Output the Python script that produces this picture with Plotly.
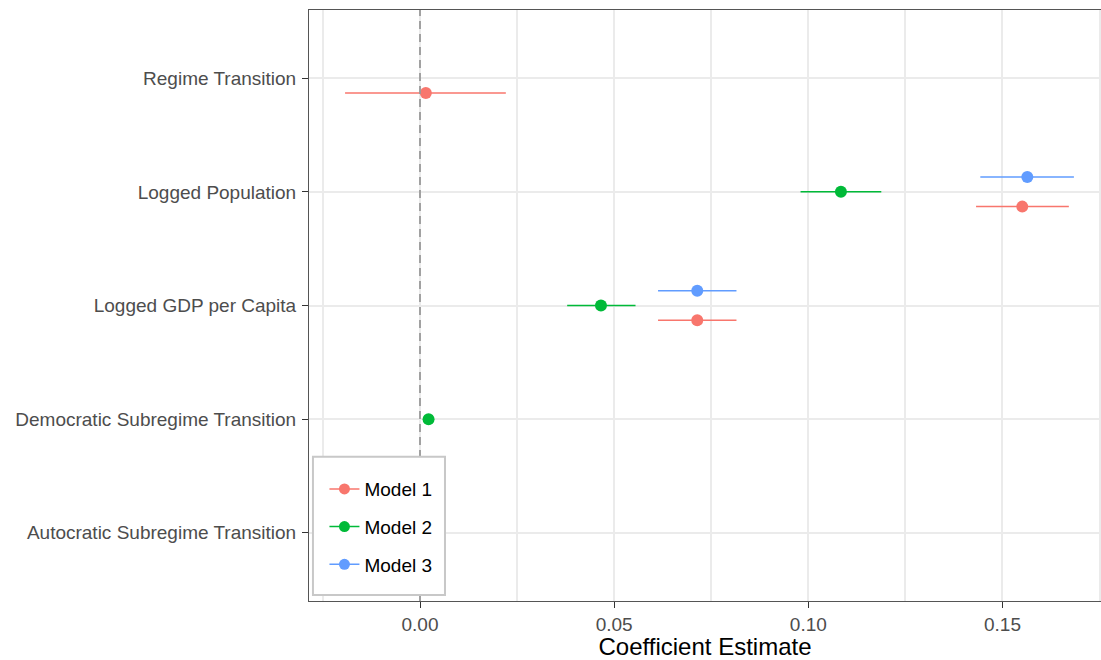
import plotly.graph_objects as go

categories = ["Autocratic Subregime Transition", "Democratic Subregime Transition",
              "Logged GDP per Capita", "Logged Population", "Regime Transition"]

models = ["Model 1", "Model 2", "Model 3"]
colors = ["#F8766D", "#00BA38", "#619CFF"]

# estimates and 95% CI per model
m1_cat = ["Regime Transition", "Logged Population", "Logged GDP per Capita"]
m1_est = [0.0015, 0.1551, 0.0714]
m1_lo = [-0.0193, 0.1432, 0.0613]
m1_hi = [0.0221, 0.1671, 0.0815]

m2_cat = ["Logged Population", "Logged GDP per Capita", "Democratic Subregime Transition"]
m2_est = [0.1084, 0.0466, 0.0022]
m2_lo = [0.0980, 0.0379, 0.0012]
m2_hi = [0.1188, 0.0555, 0.0032]

m3_cat = ["Logged Population", "Logged GDP per Capita"]
m3_est = [0.1564, 0.0714]
m3_lo = [0.1443, 0.0613]
m3_hi = [0.1684, 0.0815]

x_ticks = [0.00, 0.05, 0.10, 0.15]
x_tick_labels = ["0.00", "0.05", "0.10", "0.15"]

dodge = [-0.13, 0.0, 0.13]

fig = go.Figure()
series = [(m1_cat, m1_est, m1_lo, m1_hi), (m2_cat, m2_est, m2_lo, m2_hi), (m3_cat, m3_est, m3_lo, m3_hi)]
for i, (cats, est, lo, hi) in enumerate(series):
    ys = [categories.index(c) + dodge[i] for c in cats]
    fig.add_trace(go.Scatter(
        x=est, y=ys, mode="markers", name=models[i],
        marker=dict(color=colors[i], size=12),
        error_x=dict(type="data", symmetric=False,
                     array=[h - e for h, e in zip(hi, est)],
                     arrayminus=[e - l for e, l in zip(est, lo)],
                     color=colors[i], thickness=1.5, width=0),
        legendgroup=models[i],
        showlegend=False,
    ))
    # legend entry
    fig.add_trace(go.Scatter(
        x=[None], y=[None], mode="lines+markers", name=models[i],
        line=dict(color=colors[i], width=1.5),
        marker=dict(color=colors[i], size=11),
        legendgroup=models[i],
    ))

# zero reference line
fig.add_shape(type="line", xref="x", yref="paper", x0=0, x1=0, y0=0, y1=1,
              line=dict(color="#999999", width=1.8, dash="8px,5px"), layer="above")
# legend frame
fig.add_shape(type="rect", xref="paper", yref="paper", x0=0.005, x1=0.1717, y0=0.0102, y1=0.2439,
              fillcolor="white", line=dict(color="#c8c8c8", width=2), layer="above")

fig.update_layout(
    width=1101, height=660,
    margin=dict(l=309, r=0, t=10, b=59),
    paper_bgcolor="white", plot_bgcolor="white",
    font=dict(family="Liberation Sans, Arial, sans-serif", size=19, color="#4d4d4d"),
    showlegend=True,
    legend=dict(x=0.0195, y=0.2216, xanchor="left", yanchor="top",
                bgcolor="rgba(0,0,0,0)", borderwidth=0,
                font=dict(size=19, color="black"), tracegroupgap=10,
                itemwidth=30),
    xaxis=dict(range=[-0.02859, 0.17538], tickvals=x_ticks, ticktext=x_tick_labels,
               automargin=False,
               showgrid=True, gridcolor="#ebebeb", gridwidth=1.8,
               minor=dict(dtick=0.05, tick0=0.025, showgrid=True, gridcolor="#ebebeb", gridwidth=1.8),
               zeroline=False, showline=True, linecolor="#555555", linewidth=1, mirror=True,
               ticks="outside", ticklen=6, tickcolor="#333333",
               tickfont=dict(size=19, color="#4d4d4d"),
               title=dict(text="Coefficient Estimate", font=dict(size=24, color="black"), standoff=4)),
    yaxis=dict(range=[-0.6, 4.6], tickvals=list(range(len(categories))), ticktext=categories,
               automargin=False,
               showgrid=True, gridcolor="#ebebeb", gridwidth=1.8,
               zeroline=False, showline=True, linecolor="#555555", linewidth=1, mirror=False,
               ticks="outside", ticklen=6, tickcolor="#333333", ticklabelstandoff=2,
               tickfont=dict(size=19, color="#4d4d4d")),
)

fig.write_html("out.html", config={"displayModeBar": False},
               post_script="document.body.style.margin='0';")
